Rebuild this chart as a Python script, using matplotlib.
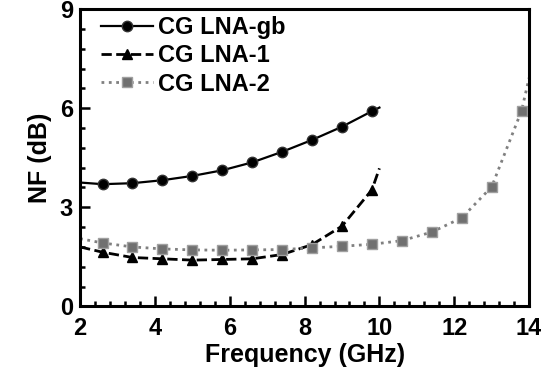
import matplotlib
matplotlib.use("Agg")
import matplotlib.pyplot as plt
from matplotlib.ticker import MultipleLocator

plt.rcParams['font.family'] = ['Liberation Sans', 'DejaVu Sans']
plt.rcParams['font.weight'] = 'bold'

# marker points
f_pts = [2.6, 3.4, 4.2, 5.0, 5.8, 6.6, 7.4, 8.2, 9.0, 9.8]
nf_gb = [3.70, 3.73, 3.82, 3.95, 4.12, 4.36, 4.68, 5.04, 5.44, 5.91]
nf_1 = [1.64, 1.48, 1.44, 1.40, 1.42, 1.44, 1.57, 1.87, 2.43, 3.53]
f_pts2 = [2.6, 3.4, 4.2, 5.0, 5.8, 6.6, 7.4, 8.2, 9.0, 9.8, 10.6, 11.4, 12.2, 13.0, 13.8]
nf_2 = [1.92, 1.80, 1.74, 1.71, 1.70, 1.71, 1.72, 1.77, 1.82, 1.88, 1.99, 2.25, 2.68, 3.62, 5.93]

# fitted curve end values
gb_start, gb_end = 3.75, 6.02
l1_start, l1_end = 1.80, 4.18
l2_start, l2_end = 2.05, 6.92

fig = plt.figure(figsize=(5.41, 3.82), dpi=100)
ax = fig.add_axes([0.148, 0.198, 0.830, 0.778])

ax.plot([2] + f_pts + [10], [gb_start] + nf_gb + [gb_end], '-', color='black', lw=1.6)
ax.plot([2] + f_pts + [10], [l1_start] + nf_1 + [l1_end], '--', color='black', lw=2.0)
ax.plot([2] + f_pts2 + [14], [l2_start] + nf_2 + [l2_end], ':', color='#808080', lw=2.0)

ax.plot(f_pts, nf_gb, 'o', ms=7.5, mfc='black', mec='#333333', mew=1)
ax.plot(f_pts, nf_1, '^', ms=7.5, mfc='black', mec='black')
ax.plot(f_pts2, nf_2, 's', ms=7, mfc='#707070', mec='#a0a0a0', mew=1)

# legend proxies
h1, = ax.plot([], [], '-o', color='black', lw=1.6, ms=7.5, mfc='black', mec='#333333')
h2, = ax.plot([], [], '--^', color='black', lw=2.0, ms=7.5)
h3, = ax.plot([], [], ':s', color='#808080', lw=2.0, ms=7, mfc='#707070', mec='#a0a0a0')
ax.legend([h1, h2, h3], ['CG LNA-gb', 'CG LNA-1', 'CG LNA-2'], loc='upper left',
          bbox_to_anchor=(0.03, 1.0), frameon=False, handlelength=2.2, handletextpad=0.25,
          labelspacing=0.22, borderaxespad=0.1, borderpad=0.2,
          prop={'weight': 'bold', 'size': 17})

ax.set_xlim(2, 14)
ax.set_ylim(0, 9)
ax.xaxis.set_major_locator(MultipleLocator(2))
ax.xaxis.set_minor_locator(MultipleLocator(0.4))
ax.yaxis.set_major_locator(MultipleLocator(3))
ax.yaxis.set_minor_locator(MultipleLocator(0.6))
ax.tick_params(which='both', direction='in', width=1.8, labelsize=17)
ax.tick_params(which='major', length=7)
ax.tick_params(which='minor', length=3.6)
ax.tick_params(axis='x', which='major', pad=8)
ax.tick_params(axis='y', which='major', pad=5)
for s in ax.spines.values():
    s.set_linewidth(2.2)

ax.set_xlabel('Frequency (GHz)', fontsize=18, fontweight='bold', labelpad=2)
ax.set_ylabel('NF (dB)', fontsize=18, fontweight='bold', labelpad=6)

fig.savefig('out.png', dpi=100)
